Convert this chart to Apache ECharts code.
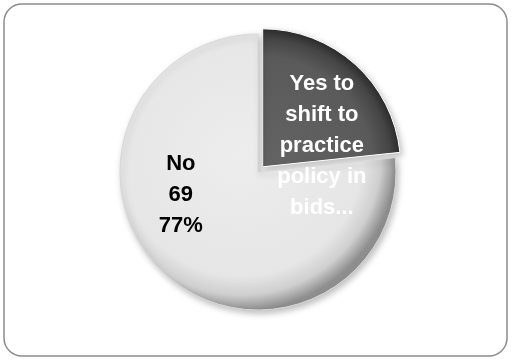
<!DOCTYPE html>
<html>
<head>
<meta charset="utf-8">
<script src="https://cdn.jsdelivr.net/npm/echarts@6/dist/echarts.min.js"></script>
<style>
  html, body { margin: 0; padding: 0; background: #fff; }
  #chart { width: 512px; height: 360px; }
</style>
</head>
<body>
<div id="chart"></div>
<script>
var categories = ["Yes to shift to practice policy in bids...", "No"];
var counts = [21, 69];
var labelTexts = ["Yes to\nshift to\npractice\npolicy in\nbids...", "No"];

var sliceColors = [
  { type: "radial", x: 0, y: 1, r: 1, colorStops: [
    { offset: 0, color: "#646464" },
    { offset: 0.8, color: "#5a5a5a" },
    { offset: 0.93, color: "#454545" },
    { offset: 1, color: "#2e2e2e" }
  ] },
  { type: "radial", x: 0.44, y: 0.44, r: 0.56, colorStops: [
    { offset: 0, color: "#ededed" },
    { offset: 0.78, color: "#e6e6e6" },
    { offset: 0.9, color: "#cfcfcf" },
    { offset: 1, color: "#8e8e8e" }
  ] }
];

var chart = echarts.init(document.getElementById("chart"));

chart.setOption({
  backgroundColor: "#fff",
  animation: false,
  graphic: [{
    type: "rect",
    shape: { x: 4, y: 4, width: 503, height: 352, r: 18 },
    style: { fill: "none", stroke: "#8c8c8c", lineWidth: 1.5 }
  }],
  series: [{
    type: "pie",
    center: [258, 172],
    radius: [0, 138],
    startAngle: 90,
    clockwise: true,
    selectedMode: "single",
    selectedOffset: 7,
    percentPrecision: 0,
    emphasis: { disabled: true },
    label: {
      position: "inside",
      fontFamily: "Liberation Sans",
      fontWeight: "bold",
      fontSize: 22,
      lineHeight: 31,
      align: "center",
      formatter: function (p) {
        if (p.dataIndex === 0) return labelTexts[0];
        return labelTexts[1] + "\n" + p.value + "\n" + Math.round(p.percent) + "%";
      }
    },
    labelLayout: function (p) {
      if (p.dataIndex === 0) return { dx: 11, dy: 33 };
      return { dx: -29, dy: -31 };
    },
    data: categories.map(function (name, i) {
      return {
        name: name,
        value: counts[i],
        selected: i === 0,
        itemStyle: {
          color: sliceColors[i],
          borderColor: i === 0 ? "#ffffff" : "#d8d8d8",
          borderWidth: 1,
          shadowBlur: 6,
          shadowColor: "rgba(0,0,0,0.25)",
          shadowOffsetX: 2,
          shadowOffsetY: 3
        },
        label: { color: i === 0 ? "#ffffff" : "#000000" }
      };
    })
  }]
});
</script>
</body>
</html>
